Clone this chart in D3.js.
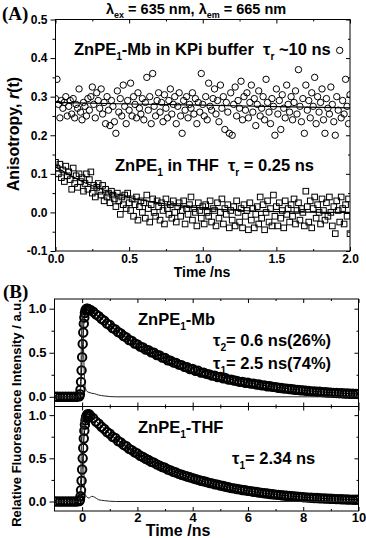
<!DOCTYPE html>
<html>
<head>
<meta charset="utf-8">
<script src="https://cdn.jsdelivr.net/npm/d3@7"></script>
<style>
body { margin: 0; background: #fff; }
svg text { font-family: "Liberation Sans", Arial, sans-serif; font-weight: bold; fill: #000; }
</style>
</head>
<body>
<svg id="chart"></svg>
<script>
// ---- panel A : anisotropy r(t), t = 0 .. 2 ns every 0.01 ns
const anisoTime = d3.range(0, 201).map(i => i / 100)

const mbAniso = [
  0.295, 0.345, 0.280, 0.245, 0.290, 0.270, 0.285, 0.300, 0.250, 0.275,
  0.290, 0.255, 0.295, 0.245, 0.280, 0.270, 0.320, 0.260, 0.240, 0.285,
  0.275, 0.250, 0.295, 0.265, 0.300, 0.325, 0.280, 0.245, 0.310, 0.290,
  0.270, 0.320, 0.255, 0.285, 0.230, 0.300, 0.265, 0.225, 0.290, 0.275,
  0.235, 0.205, 0.315, 0.260, 0.295, 0.250, 0.330, 0.275, 0.230, 0.290,
  0.265, 0.335, 0.250, 0.300, 0.280, 0.245, 0.310, 0.270, 0.255, 0.295,
  0.240, 0.285, 0.350, 0.265, 0.300, 0.230, 0.360, 0.275, 0.250, 0.290,
  0.310, 0.260, 0.285, 0.235, 0.305, 0.270, 0.245, 0.290, 0.320, 0.255,
  0.280, 0.300, 0.230, 0.275, 0.310, 0.250, 0.205, 0.290, 0.265, 0.300,
  0.245, 0.280, 0.270, 0.310, 0.255, 0.295, 0.230, 0.285, 0.260, 0.360,
  0.280, 0.250, 0.300, 0.240, 0.335, 0.275, 0.265, 0.295, 0.320, 0.255,
  0.290, 0.235, 0.330, 0.270, 0.300, 0.215, 0.285, 0.260, 0.205, 0.310,
  0.200, 0.280, 0.325, 0.250, 0.290, 0.270, 0.340, 0.240, 0.300, 0.265,
  0.310, 0.245, 0.285, 0.330, 0.260, 0.295, 0.225, 0.280, 0.315, 0.250,
  0.270, 0.300, 0.240, 0.345, 0.285, 0.260, 0.230, 0.295, 0.275, 0.200,
  0.320, 0.255, 0.290, 0.215, 0.305, 0.270, 0.245, 0.330, 0.280, 0.260,
  0.300, 0.240, 0.285, 0.315, 0.255, 0.370, 0.275, 0.235, 0.295, 0.205,
  0.330, 0.265, 0.290, 0.245, 0.310, 0.275, 0.350, 0.230, 0.300, 0.260,
  0.285, 0.320, 0.240, 0.205, 0.295, 0.270, 0.255, 0.325, 0.280, 0.235,
  0.200, 0.300, 0.265, 0.420, 0.245, 0.290, 0.255, 0.345, 0.275, 0.230,
  0.305
]

const thfAniso = [
  0.130, 0.115, 0.100, 0.125, 0.090, 0.110, 0.080, 0.120, 0.095, 0.105,
  0.085, 0.060, 0.115, 0.075, 0.095, 0.065, 0.100, 0.080, 0.090, 0.055,
  0.075, 0.100, 0.060, 0.085, 0.105, 0.050, 0.070, 0.040, 0.065, 0.075,
  0.055, 0.045, 0.070, 0.030, 0.060, 0.040, 0.050, 0.025, 0.055, 0.045,
  0.035, 0.015, 0.050, 0.030, -0.005, 0.040, 0.020, 0.045, 0.010, 0.050,
  0.025, 0.005, 0.035, -0.010, 0.020, 0.040, -0.020, 0.015, 0.030, 0.000,
  0.025, -0.015, 0.045, 0.010, -0.025, 0.020, 0.035, 0.000, -0.010, 0.030,
  0.015, -0.020, 0.025, 0.005, -0.030, 0.035, 0.010, -0.005, 0.020, -0.015,
  0.030, 0.000, -0.025, 0.015, 0.025, -0.010, 0.005, 0.030, -0.030, 0.010,
  -0.005, 0.020, 0.040, -0.020, 0.010, 0.000, -0.035, 0.025, 0.005, -0.015,
  0.015, -0.030, 0.020, 0.000, -0.010, 0.030, -0.025, 0.010, 0.005, -0.035,
  0.025, -0.015, 0.000, 0.035, -0.030, 0.010, -0.005, 0.020, -0.040, 0.005,
  -0.020, 0.015, -0.035, 0.030, 0.000, -0.025, 0.010, -0.040, 0.020, -0.010,
  0.005, -0.045, 0.025, -0.020, 0.010, -0.040, -0.005, 0.015, -0.030, 0.040,
  -0.015, 0.020, -0.045, 0.000, 0.030, -0.025, 0.010, -0.035, 0.045, -0.010,
  0.015, -0.035, 0.025, -0.015, 0.005, -0.040, 0.030, -0.005, 0.010, -0.025,
  0.020, -0.010, 0.035, -0.030, 0.005, 0.025, -0.020, 0.010, 0.000, -0.035,
  0.055, 0.015, -0.025, 0.030, -0.040, 0.010, 0.040, -0.015, 0.020, 0.000,
  -0.030, 0.035, 0.005, -0.020, 0.025, -0.010, 0.040, 0.000, -0.035, 0.015,
  -0.055, 0.030, 0.005, -0.025, 0.040, 0.010, -0.030, 0.020, -0.010, 0.035,
  -0.055
]

const mbAnisoFitT = [0, 0.5, 1.0, 1.5, 2.0]
const mbAnisoFit = [0.285, 0.281, 0.278, 0.274, 0.271]
const thfAnisoFitT = [0, 0.1, 0.2, 0.3, 0.4, 0.5, 0.6, 0.8, 1.0, 1.25, 1.5, 2.0]
const thfAnisoFit = [0.118, 0.096, 0.077, 0.062, 0.049, 0.039, 0.031, 0.019, 0.011, 0.005, 0.002, 0.0]

// ---- panel B : fluorescence decays
const baseT = d3.range(-10, -1).map(i => i / 10)      // -1.0 .. -0.2
const baseVals = [0, 0, 0, 0, 0, 0, 0, 0, 0]
const riseT = [-0.1, -0.08, -0.06, -0.04, -0.02, 0, 0.02, 0.04, 0.06, 0.08, 0.1, 0.12, 0.14, 0.16, 0.18, 0.2, 0.22, 0.25]
const mbRise = [0.005, 0.03, 0.08, 0.17, 0.30, 0.45, 0.60, 0.73, 0.83, 0.90, 0.95, 0.98, 0.99, 1.0, 0.995, 1.0, 0.99, 0.99]
const thfRise = [0.005, 0.02, 0.06, 0.13, 0.24, 0.37, 0.50, 0.62, 0.73, 0.82, 0.89, 0.94, 0.97, 0.99, 1.0, 1.01, 1.0, 1.01]

const decayT = d3.range(3, 101).map(i => i / 10)      // 0.3 .. 10.0
const mbDecay = [
  0.985, 0.965, 0.935, 0.915, 0.885, 0.865, 0.830, 0.815, 0.780, 0.765,
  0.735, 0.720, 0.690, 0.675, 0.645, 0.635, 0.605, 0.595, 0.570, 0.560,
  0.535, 0.530, 0.505, 0.500, 0.475, 0.470, 0.445, 0.440, 0.415, 0.410,
  0.390, 0.385, 0.365, 0.360, 0.340, 0.335, 0.315, 0.315, 0.295, 0.295,
  0.275, 0.275, 0.260, 0.255, 0.240, 0.240, 0.225, 0.225, 0.210, 0.210,
  0.195, 0.195, 0.185, 0.180, 0.170, 0.170, 0.160, 0.160, 0.150, 0.150,
  0.140, 0.140, 0.130, 0.130, 0.120, 0.120, 0.113, 0.110, 0.103, 0.100,
  0.095, 0.093, 0.088, 0.086, 0.080, 0.079, 0.074, 0.073, 0.068, 0.067,
  0.062, 0.062, 0.057, 0.057, 0.053, 0.052, 0.049, 0.048, 0.045, 0.044,
  0.041, 0.041, 0.038, 0.038, 0.035, 0.035, 0.033, 0.032
]
const thfDecay = [
  0.990, 0.965, 0.925, 0.900, 0.865, 0.840, 0.805, 0.785, 0.750, 0.735,
  0.700, 0.685, 0.655, 0.640, 0.610, 0.595, 0.570, 0.555, 0.530, 0.515,
  0.495, 0.480, 0.460, 0.450, 0.430, 0.415, 0.400, 0.390, 0.370, 0.360,
  0.345, 0.335, 0.320, 0.310, 0.300, 0.290, 0.280, 0.270, 0.260, 0.250,
  0.240, 0.235, 0.225, 0.215, 0.210, 0.200, 0.195, 0.185, 0.180, 0.170,
  0.165, 0.155, 0.152, 0.145, 0.140, 0.133, 0.130, 0.123, 0.120, 0.113,
  0.110, 0.104, 0.100, 0.095, 0.092, 0.087, 0.084, 0.080, 0.077, 0.073,
  0.070, 0.066, 0.064, 0.060, 0.058, 0.055, 0.053, 0.050, 0.048, 0.045,
  0.044, 0.041, 0.040, 0.037, 0.036, 0.034, 0.033, 0.031, 0.030, 0.028,
  0.027, 0.026, 0.025, 0.023, 0.022, 0.021, 0.020, 0.020
]

const fitT = [-1, -0.1, -0.06, -0.03, 0, 0.03, 0.06, 0.1, 0.15, 0.2, 0.5, 1, 1.5, 2, 3, 4, 5, 6, 7, 8, 9, 10]
const mbFit = [0, 0.005, 0.07, 0.22, 0.45, 0.66, 0.82, 0.94, 0.99, 1.0, 0.935, 0.81, 0.69, 0.59, 0.44, 0.315, 0.225, 0.16, 0.11, 0.073, 0.048, 0.032]
const thfFit = [0, 0.005, 0.05, 0.18, 0.37, 0.55, 0.70, 0.85, 0.95, 0.99, 0.93, 0.785, 0.655, 0.555, 0.39, 0.27, 0.185, 0.123, 0.08, 0.05, 0.031, 0.02]

const irfT = [-1, -0.12, -0.08, -0.05, -0.02, 0, 0.02, 0.05, 0.08, 0.12, 0.18, 0.25, 0.35, 0.45, 0.6, 0.8, 1.2, 10]
const mbIrf = [0, 0, 0.03, 0.25, 0.7, 0.95, 0.9, 0.55, 0.25, 0.1, 0.06, 0.05, 0.04, 0.035, 0.02, 0.01, 0, 0]
const thfIrf = [0, 0, 0.03, 0.3, 0.75, 1.0, 0.9, 0.5, 0.2, 0.08, 0.05, 0.04, 0.06, 0.05, 0.02, 0.01, 0, 0]

const width = 366
const height = 538

let svg = d3.select("#chart")
  .attr("width", width)
  .attr("height", height)

const zip = (xs, ys) => xs.map((x, i) => [x, ys[i]])

// text with subscripts: parts = [[string, isSub], ...]
function richText(x, y, parts, size, anchor) {
  let t = svg.append("text")
    .attr("x", x).attr("y", y)
    .attr("font-size", size)
    .attr("text-anchor", anchor || "start")
    .style("white-space", "pre")
  let down = false
  parts.forEach(p => {
    let sp = t.append("tspan").text(p[0])
    if (p[1]) {
      sp.attr("font-size", size * 0.62).attr("dy", down ? 0 : size * 0.3)
      down = true
    } else {
      if (down) sp.attr("dy", -size * 0.3)
      down = false
    }
  })
  return t
}

// frame + ticks, Origin style (left ticks outside, others inside)
function frame(x, y, o) {
  let x0 = x.range()[0], x1 = x.range()[1]
  let y0 = y.range()[0], y1 = y.range()[1]
  svg.append("rect")
    .attr("x", x0).attr("y", y1)
    .attr("width", x1 - x0).attr("height", y0 - y1)
    .attr("fill", "none").attr("stroke", "#000").attr("stroke-width", 1)

  const clean = g => g.select(".domain").remove()

  svg.append("g").attr("transform", "translate(" + x0 + ",0)")
    .call(d3.axisLeft(y).tickValues(o.yMajor).tickSize(5).tickPadding(3).tickFormat(d => d.toFixed(1)))
    .call(clean)
    .selectAll("text").attr("font-size", o.font).attr("font-family", null)
  svg.append("g").attr("transform", "translate(" + x0 + ",0)")
    .call(d3.axisLeft(y).tickValues(o.yMinor).tickSize(3).tickFormat(""))
    .call(clean)
  svg.append("g").attr("transform", "translate(" + x1 + ",0)")
    .call(d3.axisLeft(y).tickValues(o.yMajor).tickSize(4).tickFormat(""))
    .call(clean)
  svg.append("g").attr("transform", "translate(" + x1 + ",0)")
    .call(d3.axisLeft(y).tickValues(o.yMinor).tickSize(2).tickFormat(""))
    .call(clean)

  svg.append("g").attr("transform", "translate(0," + y1 + ")")
    .call(d3.axisBottom(x).tickValues(o.xMajor).tickSize(4).tickFormat(""))
    .call(clean)
  svg.append("g").attr("transform", "translate(0," + y1 + ")")
    .call(d3.axisBottom(x).tickValues(o.xMinor).tickSize(2).tickFormat(""))
    .call(clean)
  let bottom = svg.append("g").attr("transform", "translate(0," + y0 + ")")
    .call(d3.axisBottom(x).tickValues(o.xMajor).tickSizeInner(-4).tickPadding(o.xPad || 6)
      .tickFormat(o.xLabels ? o.xFormat : ""))
    .call(clean)
  bottom.selectAll("text").attr("font-size", o.font).attr("font-family", null)
  svg.append("g").attr("transform", "translate(0," + y0 + ")")
    .call(d3.axisTop(x).tickValues(o.xMinor).tickSize(2).tickFormat(""))
    .call(clean)
}

function clipFor(id, x, y) {
  svg.append("clipPath").attr("id", id)
    .append("rect")
    .attr("x", x.range()[0]).attr("y", y.range()[1])
    .attr("width", x.range()[1] - x.range()[0])
    .attr("height", y.range()[0] - y.range()[1])
  return "url(#" + id + ")"
}

// ================= (A)
const xA = d3.scaleLinear().domain([0, 2]).range([55.5, 350])
const yA = d3.scaleLinear().domain([-0.1, 0.5]).range([251, 19.5])

frame(xA, yA, {
  yMajor: [-0.1, 0, 0.1, 0.2, 0.3, 0.4, 0.5],
  yMinor: [-0.05, 0.05, 0.15, 0.25, 0.35, 0.45],
  xMajor: [0, 0.5, 1, 1.5, 2],
  xMinor: [0.25, 0.75, 1.25, 1.75],
  xLabels: true, xFormat: d => d.toFixed(1), font: 12, xPad: 3
})

let gA = svg.append("g").attr("clip-path", clipFor("clipA", xA, yA))
let lineA = d3.line().x(d => xA(d[0])).y(d => yA(d[1]))

gA.append("g")
  .selectAll("circle")
  .data(zip(anisoTime, mbAniso))
  .join("circle")
  .attr("cx", d => xA(d[0]))
  .attr("cy", d => yA(d[1]))
  .attr("r", 3.2)
  .attr("fill", "none")
  .attr("stroke", "#000")
  .attr("stroke-width", 1)

gA.append("g")
  .selectAll("rect")
  .data(zip(anisoTime, thfAniso))
  .join("rect")
  .attr("x", d => xA(d[0]) - 2.8)
  .attr("y", d => yA(d[1]) - 2.8)
  .attr("width", 5.6)
  .attr("height", 5.6)
  .attr("fill", "none")
  .attr("stroke", "#000")
  .attr("stroke-width", 1)

gA.append("path").datum(zip(mbAnisoFitT, mbAnisoFit))
  .attr("d", lineA).attr("fill", "none").attr("stroke", "#000").attr("stroke-width", 1.2)
gA.append("path").datum(zip(thfAnisoFitT, thfAnisoFit))
  .attr("d", lineA.curve(d3.curveMonotoneX)).attr("fill", "none").attr("stroke", "#000").attr("stroke-width", 1.2)

richText(106, 14, [["λ"], ["ex", 1], [" = 635 nm, λ"], ["em", 1], [" = 665 nm"]], 14.5)
svg.append("text").attr("x", 2).attr("y", 20)
  .style("font-family", "'Liberation Serif', 'Times New Roman', serif")
  .attr("font-size", 19).text("(A)")

richText(74, 55, [["ZnPE"], ["1", 1], ["-Mb in KPi buffer  τ"], ["r", 1], [" ~10 ns"]], 16.5)
richText(115, 171, [["ZnPE"], ["1", 1], [" in THF  τ"], ["r", 1], [" = 0.25 ns"]], 16.5)

let yLabA = svg.append("text")
  .attr("transform", "translate(19,134) rotate(-90)")
  .attr("text-anchor", "middle")
  .attr("font-size", 16)
yLabA.append("tspan").text("Anisotropy, ")
yLabA.append("tspan").style("font-style", "italic").text("r")
yLabA.append("tspan").text("(t)")

svg.append("text").attr("x", 202).attr("y", 277)
  .attr("text-anchor", "middle").attr("font-size", 14).text("Time /ns")

// ================= (B)
const xB = d3.scaleLinear().domain([-1, 10]).range([54.5, 358.5])
const yB1 = d3.scaleLinear().domain([-0.11, 1.11]).range([406.5, 299])
const yB2 = d3.scaleLinear().domain([-0.11, 1.1]).range([511, 406.5])

const panels = [
  { y: yB1, rise: mbRise, decay: mbDecay, fit: mbFit, irf: mbIrf, labels: false, id: "clipB1" },
  { y: yB2, rise: thfRise, decay: thfDecay, fit: thfFit, irf: thfIrf, labels: true, id: "clipB2" }
]

panels.forEach(p => {
  frame(xB, p.y, {
    yMajor: [0, 0.5, 1],
    yMinor: [0.25, 0.75],
    xMajor: [0, 2, 4, 6, 8, 10],
    xMinor: [1, 3, 5, 7, 9],
    xLabels: p.labels, xFormat: d3.format("d"), font: 13, xPad: 2
  })

  let g = svg.append("g").attr("clip-path", clipFor(p.id, xB, p.y))
  let line = d3.line().x(d => xB(d[0])).y(d => p.y(d[1])).curve(d3.curveMonotoneX)

  let pts = zip(baseT, baseVals).concat(zip(riseT, p.rise), zip(decayT, p.decay))
  g.append("g")
    .selectAll("circle")
    .data(pts)
    .join("circle")
    .attr("cx", d => xB(d[0]))
    .attr("cy", d => p.y(d[1]))
    .attr("r", 4.2)
    .attr("fill", "none")
    .attr("stroke", "#000")
    .attr("stroke-width", 2)

  g.append("path").datum(zip(fitT, p.fit))
    .attr("d", line).attr("fill", "none").attr("stroke", "#000").attr("stroke-width", 1)
  g.append("path").datum(zip(irfT, p.irf))
    .attr("d", line).attr("fill", "none").attr("stroke", "#222").attr("stroke-width", 1)
})

svg.append("text").attr("x", 3).attr("y", 298)
  .style("font-family", "'Liberation Serif', 'Times New Roman', serif")
  .attr("font-size", 19).text("(B)")

richText(138, 325, [["ZnPE"], ["1", 1], ["-Mb"]], 16.5)
richText(213, 346, [["τ"], ["2", 1], ["= 0.6 ns(26%)"]], 16.5)
richText(213, 369, [["τ"], ["1", 1], ["= 2.5 ns(74%)"]], 16.5)
richText(138, 433, [["ZnPE"], ["1", 1], ["-THF"]], 16.5)
richText(232, 464, [["τ"], ["1", 1], ["= 2.34 ns"]], 16.5)

svg.append("text")
  .attr("transform", "translate(21,413) rotate(-90)")
  .attr("text-anchor", "middle")
  .attr("font-size", 13)
  .text("Relative Fluorescence Intensity / a.u.")

svg.append("text").attr("x", 178).attr("y", 536)
  .attr("text-anchor", "middle").attr("font-size", 16).text("Time /ns")
</script>
</body>
</html>
